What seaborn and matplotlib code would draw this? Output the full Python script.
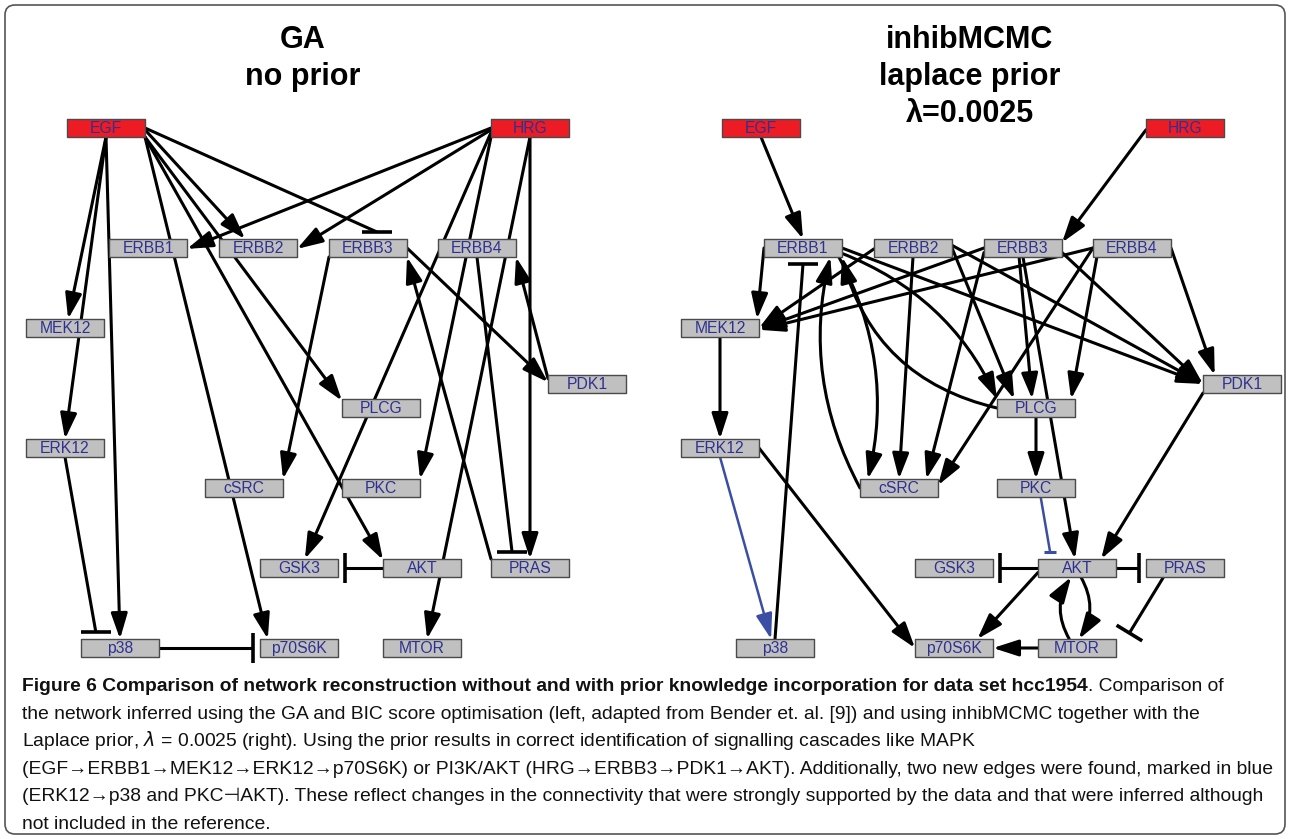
import numpy as np
import pandas as pd
import matplotlib
matplotlib.use("Agg")
import matplotlib.pyplot as plt
from matplotlib.patches import FancyArrowPatch, FancyBboxPatch
import seaborn as sns

# ── node layout (pixel coords inside one panel) ───────────────────────────────
node_names = ["EGF", "HRG", "ERBB1", "ERBB2", "ERBB3", "ERBB4", "MEK12", "ERK12",
              "PDK1", "PLCG", "cSRC", "PKC", "GSK3", "AKT", "PRAS", "p38",
              "p70S6K", "MTOR"]
node_x = [106, 530, 148, 258, 368, 477, 65, 65, 587, 381, 244, 381, 299, 422,
          530, 120, 299, 422]
node_y = [128, 128, 248, 248, 248, 248, 328, 448, 384, 408, 488, 488, 568, 568,
          568, 648, 648, 648]
stimuli = ["EGF", "HRG"]

# ── edges: (source, target, type, source port, target port, bend) ────────────
# ports are fractions of the half box width / height
ga_edges = [
    ("EGF", "MEK12", "act", (0, 1), (0.08, -1), 0),
    ("EGF", "ERK12", "act", (0, 1), (0, -1), 0),
    ("EGF", "p38", "act", (0, 1), (0, -1), 0),
    ("EGF", "ERBB2", "act", (1, 0.2), (-0.33, -1), 0),
    ("EGF", "ERBB3", "inh", (1, 0), (0.23, -1), 0),
    ("EGF", "PLCG", "act", (1, 1), (-1, -0.8), 0),
    ("EGF", "AKT", "act", (1, 1), (-1, -0.9), 0),
    ("EGF", "p70S6K", "act", (1, 1), (-0.8, -1), 0),
    ("HRG", "ERBB1", "act", (-1, 0), (1, 0.1), 0),
    ("HRG", "ERBB2", "act", (-1, 0.2), (1, 0.1), 0),
    ("HRG", "GSK3", "act", (-1, 0.5), (0.15, -1), 0),
    ("HRG", "PKC", "act", (-1, 1), (1, -1), 0),
    ("HRG", "MTOR", "act", (0, 1), (0.13, -1), 0),
    ("HRG", "PRAS", "act", (0, 1), (0, -1), 0),
    ("ERBB4", "PRAS", "inh", (0, 1), (-0.46, -1), 0),
    ("PRAS", "ERBB3", "act", (-1, -1), (1, 1), 0),
    ("ERBB3", "PDK1", "act", (1, 0), (-1, -0.2), 0),
    ("PDK1", "ERBB4", "act", (-1, -0.6), (1, 1), 0),
    ("ERBB3", "cSRC", "act", (-1, 1), (1, -1), 0),
    ("ERK12", "p38", "inh", (0, 1), (-0.62, -1), 0),
    ("p38", "p70S6K", "inh", (1, 0), (-1, 0), 0),
    ("AKT", "GSK3", "inh", (-1, 0), (1, 0), 0),
]

mcmc_edges = [
    ("EGF", "ERBB1", "act", (0, 1), (0, -1), 0),
    ("HRG", "ERBB3", "act", (-1, 0.2), (1, -0.6), 0),
    ("ERBB1", "MEK12", "act", (-1, 0), (0.95, -1), 0),
    ("p38", "ERBB1", "inh", (0, -1), (0, 1), 0),
    ("ERK12", "p38", "act", (0, 1), (-0.1, -1), 0),
    ("ERK12", "p70S6K", "act", (1, 0), (-1, 0), 0),
    ("MEK12", "ERK12", "act", (0, 1), (0, -1), 0),
    ("ERBB2", "MEK12", "act", (-1, 0.1), (1, 0), 0),
    ("ERBB3", "MEK12", "act", (-1, 0), (1, 0.1), 0),
    ("ERBB4", "MEK12", "act", (-1, 0), (1, 0.2), 0),
    ("cSRC", "ERBB1", "act", (-1, 0), (0.7, 1), -0.19),
    ("ERBB1", "cSRC", "act", (0.92, 1), (-0.8, -1), -0.19),
    ("ERBB1", "PLCG", "act", (1, 0.6), (-1, -1), -0.2),
    ("PLCG", "ERBB1", "act", (-1, 0), (1, 1), -0.3),
    ("ERBB1", "PDK1", "act", (1, 0), (-1, 0), 0),
    ("ERBB2", "cSRC", "act", (0, 1), (0, -1), 0),
    ("ERBB2", "PLCG", "act", (1, 0), (-0.56, -1), 0),
    ("ERBB2", "PDK1", "act", (1, -0.3), (-1, 0), 0),
    ("ERBB3", "cSRC", "act", (-1, 0.5), (0.7, -1), 0),
    ("ERBB3", "PLCG", "act", (-0.1, 1), (-0.1, -1), 0),
    ("ERBB3", "AKT", "act", (0, 1), (-0.05, -1), 0),
    ("ERBB3", "PDK1", "act", (1, 0.5), (-1, 0), 0),
    ("ERBB4", "cSRC", "act", (-1, 0), (1, -0.3), 0),
    ("ERBB4", "PLCG", "act", (-0.9, 1), (0.9, -1), 0),
    ("ERBB4", "PDK1", "act", (1, 0), (-0.7, -1), 0),
    ("PLCG", "PKC", "act", (0, 1), (0, -1), 0),
    ("PKC", "AKT", "inh", (0.12, 1), (-0.69, -1), 0),
    ("PDK1", "AKT", "act", (-1, 1), (0.62, -1), 0),
    ("AKT", "GSK3", "inh", (-1, 0), (1, 0), 0),
    ("AKT", "PRAS", "inh", (1, 0), (-1, 0), 0),
    ("PRAS", "MTOR", "inh", (-0.55, 1), (1.25, -1), 0),
    ("AKT", "p70S6K", "act", (-1, 0.5), (0.6, -1), 0),
    ("AKT", "MTOR", "act", (0.1, 1), (0.05, -1), -0.3),
    ("MTOR", "AKT", "act", (-0.2, -1), (-0.15, 1), -0.3),
    ("MTOR", "p70S6K", "act", (-1, 0), (1, 0), 0),
]
# edges found by inhibMCMC that are not in the reference (blue)
new_edges = [("ERK12", "p38"), ("PKC", "AKT")]

panel_titles = ["GA\nno prior", "inhibMCMC\nlaplace prior\nλ=0.0025"]

caption_bold = ("Figure 6 Comparison of network reconstruction without and with prior "
                "knowledge incorporation for data set hcc1954")
caption_lines = [
    ". Comparison of",
    "the network inferred using the GA and BIC score optimisation (left, adapted from "
    "Bender et. al. [9]) and using inhibMCMC together with the",
    r"Laplace prior, $\lambda$ = 0.0025 (right). Using the prior results in correct "
    "identification of signalling cascades like MAPK",
    "(EGF→ERBB1→MEK12→ERK12→p70S6K) or PI3K/AKT (HRG→ERBB3→PDK1→AKT). "
    "Additionally, two new edges were found, marked in blue",
    "(ERK12→p38 and PKC⊣AKT). These reflect changes in the connectivity that were "
    "strongly supported by the data and that were inferred although",
    "not included in the reference.",
]

# ── style ─────────────────────────────────────────────────────────────────────
sns.set_theme(style="white")
plt.rcParams["font.family"] = ["Liberation Sans", "DejaVu Sans"]

W, H = 1290, 839
BW, BH = 78, 18
PANEL_DX = [0, 655]
TITLE_X = [303, 970]
BLACK, BLUE = "#000000", "#3a4fa3"
LABEL_COL = "#2e3192"

fig = plt.figure(figsize=(W / 100, H / 100), dpi=100)
ax = fig.add_axes([0, 0, 1, 1])

idx = {n: i for i, n in enumerate(node_names)}


def port(name, f, dx):
    i = idx[name]
    return np.array([node_x[i] + dx + f[0] * BW / 2, node_y[i] + f[1] * BH / 2])


def draw_edge(src, dst, kind, fs, fd, rad, dx, color):
    p0, p1 = port(src, fs, dx), port(dst, fd, dx)
    lw = 2.2 if color == BLACK else 1.8
    if kind == "act":
        ax.add_patch(FancyArrowPatch(
            p0, p1, arrowstyle="-|>,head_length=1.55,head_width=0.5",
            mutation_scale=10, connectionstyle=f"arc3,rad={rad}", lw=lw,
            color=color, shrinkA=0, shrinkB=0, zorder=2))
        return
    gap = 7
    bar = 30 if color == BLACK else 12
    if abs(fd[0]) <= 1 and abs(fd[1]) == 1:      # top / bottom side: flat bar
        c = p1 + np.array([0, np.sign(fd[1]) * gap])
        n = np.array([1.0, 0.0])
    elif abs(fd[1]) < 1 and abs(fd[0]) == 1:     # left / right side
        c = p1 + np.array([np.sign(fd[0]) * gap, 0])
        n = np.array([0.0, 1.0])
    else:                                        # free end: perpendicular bar
        u = (p1 - p0) / np.hypot(*(p1 - p0))
        c = p1 - u * gap
        n = np.array([-u[1], u[0]])
    ax.plot([p0[0], c[0]], [p0[1], c[1]], color=color, lw=lw, zorder=2,
            solid_capstyle="butt")
    b0, b1 = c + n * bar / 2, c - n * bar / 2
    ax.plot([b0[0], b1[0]], [b0[1], b1[1]], color=color, lw=lw + 0.4, zorder=2,
            solid_capstyle="butt")


for dx, edges in zip(PANEL_DX, [ga_edges, mcmc_edges]):
    for src, dst, kind, fs, fd, rad in edges:
        col = BLUE if (dx > 0 and (src, dst) in new_edges) else BLACK
        draw_edge(src, dst, kind, fs, fd, rad, dx, col)

# node boxes through seaborn, rectangle marker
nodes = pd.DataFrame({
    "name": node_names * 2,
    "x": [x + d for d in PANEL_DX for x in node_x],
    "y": node_y * 2,
    "kind": ["stim" if n in stimuli else "protein" for n in node_names] * 2,
})
box = [(-BW / 2, -BH / 2), (BW / 2, -BH / 2), (BW / 2, BH / 2), (-BW / 2, BH / 2),
       (-BW / 2, -BH / 2)]
size_pt = BW * 72 / 100
sns.scatterplot(data=nodes, x="x", y="y", hue="kind", marker=box,
                palette={"stim": "#ed1c24", "protein": "#c0c0c0"},
                s=size_pt ** 2, edgecolor="#4a4a4a", linewidth=1.0,
                legend=False, ax=ax, zorder=3)
ax.set_xlim(0, W)
ax.set_ylim(H, 0)
ax.axis("off")
for _, r in nodes.iterrows():
    ax.text(r["x"], r["y"] + 0.5, r["name"], ha="center", va="center",
            fontsize=11.3, color=LABEL_COL, zorder=4)

# panel titles
for tx, title in zip(TITLE_X, panel_titles):
    for k, line in enumerate(title.split("\n")):
        ax.text(tx, 48 + 37 * k, line, ha="center", va="baseline",
                fontsize=22, fontweight="bold", color="black")

# frame around the figure
ax.add_patch(FancyBboxPatch((5, 5), W - 10, H - 10,
                            boxstyle="round,pad=0,rounding_size=10",
                            fc="none", ec="#555555", lw=1.2, zorder=1))

# caption, font size chosen so that the widest line fits the frame
cap_font = ["Liberation Sans", "DejaVu Sans"]
cap_y = [691, 719, 746, 774, 801, 829]
fig.canvas.draw()
rend = fig.canvas.get_renderer()


def line_width(size):
    ws = []
    pb = ax.text(22, 0, caption_bold, fontsize=size, family=cap_font,
                 fontweight="bold")
    pr = ax.text(22, 0, caption_lines[0], fontsize=size, family=cap_font)
    ws.append(pb.get_window_extent(rend).width + pr.get_window_extent(rend).width)
    pb.remove()
    pr.remove()
    for line in caption_lines[1:]:
        p = ax.text(22, 0, line, fontsize=size, family=cap_font)
        ws.append(p.get_window_extent(rend).width)
        p.remove()
    return max(ws)


cap_size = 12 * 1250 / line_width(12)

tb = ax.text(22, cap_y[0], caption_bold, fontsize=cap_size, family=cap_font,
             fontweight="bold", va="baseline", color="#111111")
fig.canvas.draw()
bb = tb.get_window_extent(rend)
x_end = ax.transData.inverted().transform((bb.x1, bb.y0))[0]
ax.text(x_end, cap_y[0], caption_lines[0], fontsize=cap_size, family=cap_font,
        va="baseline", color="#111111")
for y, line in zip(cap_y[1:], caption_lines[1:]):
    ax.text(22, y, line, fontsize=cap_size, family=cap_font, va="baseline",
            color="#111111")

fig.savefig("out.png", dpi=100)
